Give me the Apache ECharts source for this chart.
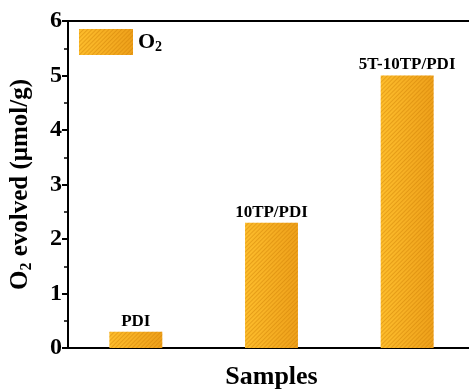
<!DOCTYPE html>
<html>
<head>
<meta charset="utf-8">
<script src="https://cdn.jsdelivr.net/npm/echarts@6/dist/echarts.min.js"></script>
<style>
  html, body { margin: 0; padding: 0; background: #fff; }
  #chart { width: 469px; height: 389px; }
</style>
</head>
<body>
<div id="chart"></div>
<script>
// Samples and the O2 evolved by each (µmol/g)
const samples = ['PDI', '10TP/PDI', '5T-10TP/PDI'];
const o2Evolved = [0.3, 2.3, 5.0];
const yTicks = [0, 1, 2, 3, 4, 5, 6];

const serif = '"Liberation Serif", "Times New Roman", serif';

// Golden bar fill with fine diagonal hatching
const barFill = {
  type: 'linear', x: 0, y: 0, x2: 1, y2: 0,
  colorStops: [
    { offset: 0, color: '#FDBD2C' },
    { offset: 1, color: '#EEA01A' }
  ]
};
const hatch = {
  symbol: 'rect',
  symbolSize: 1,
  dashArrayX: [1, 0],
  dashArrayY: [1, 2],
  rotation: -Math.PI / 4,
  color: 'rgba(200, 120, 0, 0.4)'
};

const chart = echarts.init(document.getElementById('chart'), null, { renderer: 'canvas' });

chart.setOption({
  animation: false,
  backgroundColor: '#fff',
  grid: {
    left: 68, top: 21, bottom: 41, right: -6,
    show: true, borderColor: '#000', borderWidth: 2,
    containLabel: false,
    outerBoundsMode: 'none'
  },
  legend: {
    left: 74, top: 24,
    itemWidth: 54, itemHeight: 26, itemGap: 7,
    icon: 'rect',
    data: ['O2'],
    formatter: () => '{b|O}{s|2}',
    textStyle: {
      rich: {
        b: { fontFamily: serif, fontWeight: 'bold', fontSize: 22, color: '#000' },
        s: { fontFamily: serif, fontWeight: 'bold', fontSize: 14, color: '#000', padding: [10, 0, 0, 0] }
      }
    }
  },
  xAxis: {
    type: 'category',
    data: samples,
    boundaryGap: true,
    axisLine: { lineStyle: { color: '#000', width: 2 } },
    axisTick: { show: false },
    axisLabel: { show: false },
    name: 'Samples',
    nameLocation: 'middle',
    nameGap: 16,
    nameTextStyle: { fontFamily: serif, fontWeight: 'bold', fontSize: 26, color: '#000', verticalAlign: 'top' }
  },
  yAxis: {
    type: 'value',
    min: yTicks[0],
    max: yTicks[yTicks.length - 1],
    interval: 1,
    splitLine: { show: false },
    axisLine: { show: true, lineStyle: { color: '#000', width: 2 } },
    axisTick: { show: true, length: 6, lineStyle: { color: '#000', width: 2 } },
    minorTick: { show: true, splitNumber: 2, length: 4, lineStyle: { color: '#000', width: 1.5 } },
    axisLabel: {
      margin: 6,
      fontFamily: serif, fontWeight: 'bold', fontSize: 24, color: '#000'
    },
    name: '{b|O}{s|2}{b| evolved (μmol/g)}',
    nameLocation: 'middle',
    nameGap: 33,
    nameTextStyle: {
      rich: {
        b: { fontFamily: serif, fontWeight: 'bold', fontSize: 25, color: '#000' },
        s: { fontFamily: serif, fontWeight: 'bold', fontSize: 16, color: '#000', padding: [12, 0, 0, 0] }
      }
    }
  },
  series: [{
    name: 'O2',
    type: 'bar',
    data: o2Evolved,
    barWidth: '39%',
    itemStyle: { color: barFill, decal: hatch },
    label: {
      show: true,
      position: 'top',
      distance: 2,
      formatter: '{b}',
      fontFamily: serif, fontWeight: 'bold', fontSize: 17, color: '#000'
    }
  }]
});
</script>
</body>
</html>
